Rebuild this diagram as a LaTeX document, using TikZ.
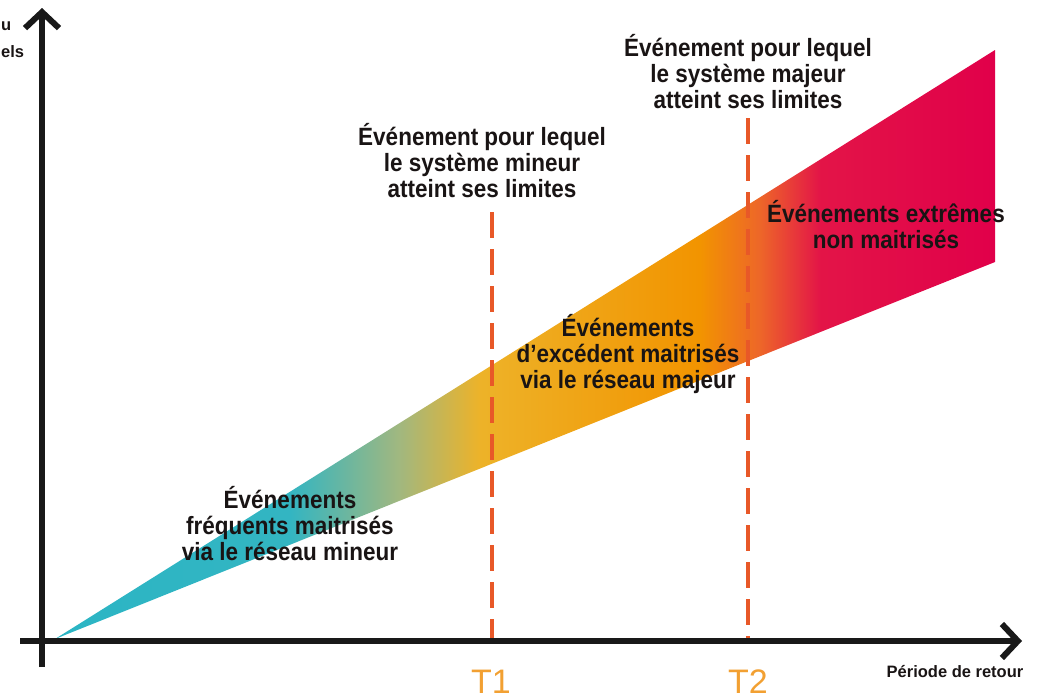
\documentclass[tikz,border=0pt]{standalone}
\usepackage{fontspec}
\setmainfont{Liberation Sans}
\newfontfamily\cond[FakeStretch=0.9]{Liberation Sans}
\usetikzlibrary{arrows.meta}
\pgfdeclarehorizontalshading{bandshade}{100bp}{rgb(0bp)=(0.17,0.71,0.77); rgb(25bp)=(0.17,0.71,0.77); rgb(37.5bp)=(0.20,0.71,0.76); rgb(43.3bp)=(0.63,0.72,0.50); rgb(47.6bp)=(0.93,0.70,0.16); rgb(59.3bp)=(0.95,0.58,0.0); rgb(62.5bp)=(0.93,0.40,0.16); rgb(65.7bp)=(0.89,0.08,0.28); rgb(75bp)=(0.88,0.0,0.29); rgb(100bp)=(0.88,0.0,0.29)}
\definecolor{dashred}{RGB}{232,88,40}
\definecolor{tlab}{RGB}{242,160,50}
\definecolor{txt}{RGB}{25,20,20}
\tikzset{
  axisline/.style={line width=6pt, black!90, arrows={-Straight Barb[length=16pt,width=34pt,line width=6pt]}},
  tline/.style={line width=4pt, dashred, dash pattern=on 26pt off 11pt},
  lbl/.style={font=\cond\bfseries\fontsize{25}{26}\selectfont, align=center, text=txt, inner sep=0pt},
  small/.style={font=\bfseries\fontsize{16.5}{18}\selectfont, text=txt, inner sep=0pt},
  tname/.style={font=\fontsize{34}{36}\selectfont, text=tlab, inner sep=0pt}
}
\begin{document}
\begin{tikzpicture}[x=1pt,y=-1pt]
\useasboundingbox (0,0) rectangle (1039,699);
% band
\coordinate (O) at (55,639);
\coordinate (UR) at (995,50);
\coordinate (LR) at (995,262);
\shade[shading=bandshade] (O) -- (UR) -- (LR) -- cycle;
% dashed limits
\coordinate (T1top) at (492,212);
\coordinate (T1bot) at (492,640);
\coordinate (T2top) at (748,118);
\coordinate (T2bot) at (748,640);
\draw[tline] (T1top) -- (T1bot);
\draw[tline] (T2top) -- (T2bot);
% axes
\coordinate (Ystart) at (42,667);
\coordinate (Yend) at (42,8);
\coordinate (Xstart) at (20,641);
\coordinate (Xend) at (1022,641);
\draw[axisline] (Ystart) -- (Yend);
\draw[axisline] (Xstart) -- (Xend);
% labels
\node[small, anchor=west] (ylab1) at (1,26) {u};
\node[small, anchor=west] (ylab2) at (1,52) {els};
\node[small] (xlab) at (955,672) {Période de retour};
\node[tname, anchor=base] (T1) at (491,693) {T1};
\node[tname, anchor=base] (T2) at (748,693) {T2};
\node[lbl] (mineur) at (482,161) {Événement pour lequel\\le système mineur\\atteint ses limites};
\node[lbl] (majeur) at (748,72) {Événement pour lequel\\le système majeur\\atteint ses limites};
\node[lbl] (extr) at (886,225) {Événements extrêmes\\non maitrisés};
\node[lbl] (exc) at (628,354) {Événements\\d’excédent maitrisés\\via le réseau majeur};
\node[lbl] (freq) at (290,524) {Événements\\fréquents maitrisés\\via le réseau mineur};
\end{tikzpicture}
\end{document}
